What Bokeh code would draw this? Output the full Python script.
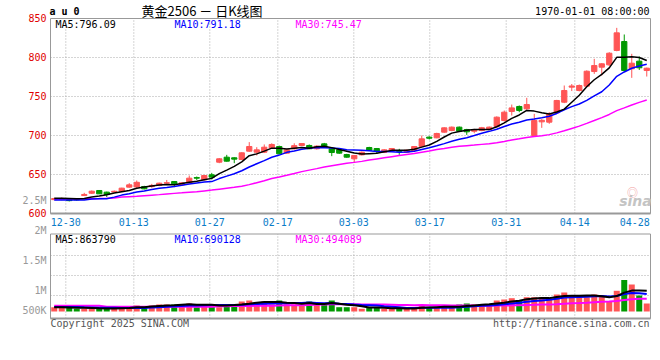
import numpy as np
from bokeh.plotting import figure
from bokeh.models import Range1d, ColumnDataSource
from bokeh.core.properties import value
from bokeh.embed import file_html
from bokeh.resources import INLINE

# ---------------- data ----------------
dates = ["12-26", "12-27", "12-30", "12-31", "01-02", "01-03",
         "01-06", "01-07", "01-08", "01-09", "01-10",
         "01-13", "01-14", "01-15", "01-16", "01-17",
         "01-20", "01-21", "01-22", "01-23", "01-24",
         "01-27", "02-05", "02-06", "02-07",
         "02-10", "02-11", "02-12", "02-13", "02-14",
         "02-17", "02-18", "02-19", "02-20", "02-21",
         "02-24", "02-25", "02-26", "02-27", "02-28",
         "03-03", "03-04", "03-05", "03-06", "03-07",
         "03-10", "03-11", "03-12", "03-13", "03-14",
         "03-17", "03-18", "03-19", "03-20", "03-21",
         "03-24", "03-25", "03-26", "03-27", "03-28",
         "03-31", "04-01", "04-02", "04-03",
         "04-07", "04-08", "04-09", "04-10", "04-11",
         "04-14", "04-15", "04-16", "04-17", "04-18",
         "04-21", "04-22", "04-23", "04-24", "04-25", "04-28"]

opens = [617.8, 618.0, 617.5, 618.5, 623.0, 626.0, 629.5, 627.4, 627.5, 628.6,
         633.8, 634.0, 634.6, 634.5, 635.9, 638.9, 641.0, 636.7, 639.3, 646.0,
         643.2, 649.6, 665.8, 672.2, 671.4, 669.2, 679.9, 678.6, 678.6, 684.2,
         685.9, 677.4, 683.0, 687.2, 687.2, 683.0, 689.3, 683.0, 681.6, 675.6,
         670.1, 675.2, 684.6, 683.3, 678.2, 680.0, 680.5, 678.6, 680.8, 686.0,
         697.9, 697.0, 704.3, 706.4, 710.7, 707.7, 705.5, 706.4, 707.7, 711.5,
         719.2, 730.8, 737.2, 734.2, 700.0, 717.5, 717.1, 729.1, 742.7, 762.0,
         757.7, 763.3, 782.0, 787.6, 790.6, 809.0, 820.5, 785.5, 795.3, 783.3]
highs = [620.0, 620.5, 618.0, 619.0, 626.5, 629.5, 630.0, 628.0, 629.5, 633.0,
         638.9, 642.3, 635.5, 638.0, 639.5, 643.0, 641.5, 640.0, 648.7, 647.4,
         649.5, 652.1, 671.0, 675.2, 672.0, 678.5, 691.5, 685.0, 688.5, 690.0,
         687.0, 683.0, 690.0, 690.0, 688.5, 687.5, 690.5, 685.0, 682.5, 676.5,
         675.0, 679.5, 685.5, 684.0, 682.5, 684.0, 682.9, 682.0, 686.5, 700.0,
         699.0, 703.5, 710.5, 711.5, 711.5, 708.5, 708.5, 711.0, 711.5, 724.5,
         732.0, 739.7, 738.5, 748.3, 727.8, 721.0, 729.9, 745.7, 764.1, 766.0,
         765.4, 783.5, 798.3, 792.7, 806.8, 838.0, 829.5, 804.7, 801.3, 787.0]
lows = [617.0, 617.0, 615.5, 616.5, 622.5, 625.0, 625.0, 621.0, 627.0, 628.0,
        633.0, 631.6, 631.0, 633.0, 635.0, 638.5, 633.8, 636.0, 638.5, 643.0,
        642.5, 643.6, 664.5, 666.5, 664.5, 668.5, 679.0, 674.4, 677.5, 683.0,
        676.0, 676.5, 682.0, 686.5, 682.5, 682.0, 684.0, 673.5, 676.5, 671.5,
        665.8, 674.5, 680.5, 676.5, 677.5, 679.0, 675.2, 678.0, 680.0, 685.5,
        694.9, 696.5, 703.5, 705.5, 705.0, 700.8, 703.0, 705.5, 707.0, 710.0,
        718.0, 725.6, 729.9, 733.0, 699.5, 709.8, 715.0, 728.0, 741.5, 757.0,
        756.5, 762.0, 779.0, 776.9, 789.0, 808.0, 782.0, 773.9, 784.0, 775.6]
closes = [619.2, 619.0, 616.5, 617.5, 624.4, 628.6, 625.2, 624.4, 628.5, 632.5,
          636.7, 640.0, 631.6, 636.0, 638.9, 639.5, 638.0, 639.3, 645.3, 645.3,
          648.7, 646.6, 670.1, 667.1, 669.7, 677.8, 685.9, 681.6, 685.0, 688.5,
          676.5, 681.6, 687.0, 689.7, 683.0, 686.3, 685.0, 678.2, 677.4, 672.2,
          674.4, 678.6, 681.2, 680.0, 681.6, 683.3, 679.5, 681.2, 685.9, 695.7,
          696.5, 702.6, 709.8, 710.7, 705.5, 704.7, 707.0, 710.0, 710.7, 723.5,
          729.9, 735.4, 732.1, 739.7, 719.2, 719.5, 727.8, 744.9, 757.7, 763.5,
          764.1, 782.4, 789.7, 791.9, 805.5, 831.6, 783.3, 792.7, 786.8, 786.3]
volumes = [176000, 176000, 205000, 111000, 111000, 111000, 111000, 152000, 111000, 176000,
           176000, 246000, 176000, 246000, 287000, 287000, 287000, 287000, 328000, 176000,
           287000, 287000, 176000, 287000, 287000, 410000, 451000, 369000, 410000, 287000,
           451000, 287000, 287000, 287000, 410000, 287000, 287000, 451000, 176000, 176000,
           176000, 111000, 176000, 176000, 111000, 111000, 111000, 111000, 176000, 246000,
           176000, 176000, 176000, 176000, 287000, 328000, 287000, 287000, 287000, 451000,
           492000, 545000, 451000, 586000, 586000, 586000, 533000, 697000, 779000, 636000,
           582000, 582000, 697000, 627000, 410000, 849000, 1292000, 1107000, 656000, 328000]

# moving-average values at the start of the window (they need earlier days)
ma5_head = [619.5, 619.5, 619.3, 619.0]
ma10_head = [617.3, 617.3, 617.3, 617.3, 617.3, 618.5, 619.0, 619.0, 621.0]
ma30_head = [618.7, 618.7, 618.7, 618.7, 619.0, 619.0, 619.2, 619.5, 620.0, 621.0,
             621.6, 622.1, 622.8, 623.5, 624.2, 625.0, 625.8, 626.5, 627.3, 628.0,
             629.0, 630.0, 631.2, 632.4, 633.6, 635.0, 637.0, 639.5, 642.0]
vma5_head = [176000, 176000, 164000, 152000]
vma10_head = [189000, 189000, 189000, 189000, 176000, 164000, 152000, 152000, 152000]
vma30_head = [238000, 238000, 238000, 238000, 238000, 238000, 238000, 193000, 193000, 193000,
              193000, 193000, 193000, 193000, 193000, 193000, 193000, 193000, 193000, 193000,
              193000, 193000, 213000, 217000, 221000, 226000, 230000, 234000, 238000]

ma_label_vals = [796.09, 791.18, 745.47]
vol_ma_label_vals = [863790, 690128, 494089]

tick_labels = ["12-30", "01-13", "01-27", "02-17", "03-03", "03-17", "03-31", "04-14", "04-28"]
tick_pos = [2.04, 11.11, 21.24, 30.31, 40.44, 50.57, 60.76, 69.91, 77.9]
price_ticks = [850, 800, 750, 700, 650, 600]
price_grid = [800, 750, 700, 650]
vol_tick_labels = ["2.5M", "2M", "1.5M", "1M", "500K"]

# ---------------- layout helpers (pixel <-> data) ----------------
W, H = 660, 360
RED = "#FF5555"
GREEN = "#009900"
BLUE_TXT = "#0A7CC8"
GRID = "#AAAAAA"
BORDER = "#999999"
MONO = "DejaVu Sans Mono"


def X(px):      # page x pixel -> slot units
    return (px - 50) / 7.5


def Y(py):      # page y pixel -> price
    return 600 + (213 - py) * 250.0 / 195.0


VPX = 41000.0


def VY(py):     # page y pixel -> volume
    return (311 - py) * VPX


N = len(closes)
xs = np.arange(N) + 0.5


def moving(vals, n, head):
    out = list(head)
    for k in range(n - 1, N):
        out.append(float(np.mean(vals[k - n + 1:k + 1])))
    return out


colors = [RED if c >= o else GREEN for o, c in zip(opens, closes)]
src = ColumnDataSource(dict(
    x=xs, o=opens, h=highs, l=lows, c=closes,
    top=[max(o, c) for o, c in zip(opens, closes)],
    bot=[min(o, c) for o, c in zip(opens, closes)],
    vol=volumes, color=colors))

p = figure(width=W, height=H, x_range=Range1d(X(0), X(W)), y_range=Range1d(Y(H), Y(0)),
           output_backend="svg", toolbar_location=None,
           x_axis_location=None, y_axis_location=None,
           min_border=0, min_border_left=0, min_border_right=0,
           min_border_top=0, min_border_bottom=0,
           outline_line_color=None, background_fill_color="white", border_fill_color="white")
p.grid.visible = False
p.extra_y_ranges = {"vol": Range1d(VY(H), VY(0))}

VTOP, VBOT = VY(233.5), VY(318)
x_grid = tick_pos[:-1]
vol_grid = [VY(255), VY(275), VY(295)]

# ---- grids ----
p.segment(x0=x_grid, y0=[600] * len(x_grid), x1=x_grid, y1=[850] * len(x_grid),
          line_color=GRID, line_dash="1 2", line_width=1)
p.segment(x0=[0] * len(price_grid), y0=price_grid, x1=[80] * len(price_grid), y1=price_grid,
          line_color=GRID, line_dash="1 2", line_width=1)
p.segment(x0=x_grid, y0=[VBOT] * len(x_grid), x1=x_grid, y1=[VTOP] * len(x_grid),
          line_color=GRID, line_dash="1 2", line_width=1, y_range_name="vol")
p.segment(x0=[0] * 3, y0=vol_grid, x1=[80] * 3, y1=vol_grid,
          line_color=GRID, line_dash="1 2", line_width=1, y_range_name="vol")

# ---- candles ----
p.segment(x0="x", y0="l", x1="x", y1="h", color="color", line_width=1, source=src)
p.vbar(x="x", top="top", bottom="bot", width=0.7, fill_color="color",
       line_color="color", line_width=1, source=src)

ma5 = moving(closes, 5, ma5_head)
ma10 = moving(closes, 10, ma10_head)
ma30 = moving(closes, 30, ma30_head)
p.line(xs, ma30, line_color="#FF00FF", line_width=1.5)
p.line(xs, ma10, line_color="#0000FF", line_width=1.5)
p.line(xs, ma5, line_color="#000000", line_width=1.5)

# ---- volume ----
p.vbar(x="x", top="vol", bottom=0, width=0.8, fill_color="color", line_color=None,
       source=src, y_range_name="vol")
vma5 = moving(volumes, 5, vma5_head)
vma10 = moving(volumes, 10, vma10_head)
vma30 = moving(volumes, 30, vma30_head)
p.line(xs, vma30, line_color="#FF00FF", line_width=2, y_range_name="vol")
p.line(xs, vma10, line_color="#0000FF", line_width=2, y_range_name="vol")
p.line(xs, vma5, line_color="#000000", line_width=2, y_range_name="vol")

# ---- panel borders ----
p.quad(left=[0], right=[80], bottom=[600], top=[850], fill_color=None,
       line_color=BORDER, line_width=1)
p.segment(x0=[0], y0=[600], x1=[80], y1=[600], line_color=BORDER, line_width=2)
p.quad(left=[0], right=[80], bottom=[VBOT], top=[VTOP], fill_color=None,
       line_color=BORDER, line_width=1, y_range_name="vol")
p.segment(x0=[0], y0=[VBOT], x1=[80], y1=[VBOT], line_color=BORDER, line_width=2,
          y_range_name="vol")


# ---- texts (all vertically centred on the picture's text centres) ----
def txt(x, y, text, color="black", size="10px", font=MONO, align="left",
        style="normal", yr="default", y_offset=0):
    p.text(x=x, y=y, text=text, text_color=color, text_font_size=size,
           text_font=value(font), text_align=align, text_baseline="middle",
           text_font_style=style, y_range_name=yr, y_offset=y_offset)


# price tick labels
txt([X(46)] * len(price_ticks), price_ticks, [str(t) for t in price_ticks],
    color="#E00000", align="right", y_offset=-1)
# date tick labels
txt(tick_pos, [Y(221)] * len(tick_pos), tick_labels, color=BLUE_TXT, align="center")
# volume tick labels (placed where the picture shows them)
txt([X(46)] * 5, [VY(200), VY(230), VY(260), VY(290), VY(310)], vol_tick_labels,
    color="#999999", align="right", yr="vol")

# header
txt([X(49)], [Y(11.2)], ["a u 0"], style="bold")
txt([X(141)], [Y(9.5)], ["黄金2506 － 日K线图"], size="13px", font="Noto Sans CJK SC")
txt([X(649)], [Y(11.2)], ["1970-01-01 08:00:00"], align="right")

# MA legends
p.text(x=[X(55), X(174), X(295)], y=[Y(23.8)] * 3,
       text=["MA5:%.2f" % ma_label_vals[0], "MA10:%.2f" % ma_label_vals[1],
             "MA30:%.2f" % ma_label_vals[2]],
       text_color=["black", "#0000FF", "#FF00FF"], text_font_size="10px",
       text_font=value(MONO), text_baseline="middle")
p.text(x=[X(55), X(174), X(295)], y=[VY(239)] * 3,
       text=["MA5:%d" % vol_ma_label_vals[0], "MA10:%d" % vol_ma_label_vals[1],
             "MA30:%d" % vol_ma_label_vals[2]],
       text_color=["black", "#0000FF", "#FF00FF"], text_font_size="10px",
       text_font=value(MONO), text_baseline="middle", y_range_name="vol")

# watermark + footer
txt([X(632)], [Y(191)], ["◎"], color="#F2A0A0", size="11px", font="Noto Sans CJK SC",
    align="center")
txt([X(635)], [Y(200)], ["sina"], color="#C4C4C4", size="14px", font="DejaVu Sans",
    align="center", style="bold italic")
txt([X(50)], [VY(323.3)], ["Copyright 2025 SINA.COM"], color="#555555", yr="vol")
txt([X(649)], [VY(323.3)], ["http://finance.sina.com.cn"], color="#555555",
    align="right", yr="vol")

open("out.html", "w").write(file_html(p, INLINE))
